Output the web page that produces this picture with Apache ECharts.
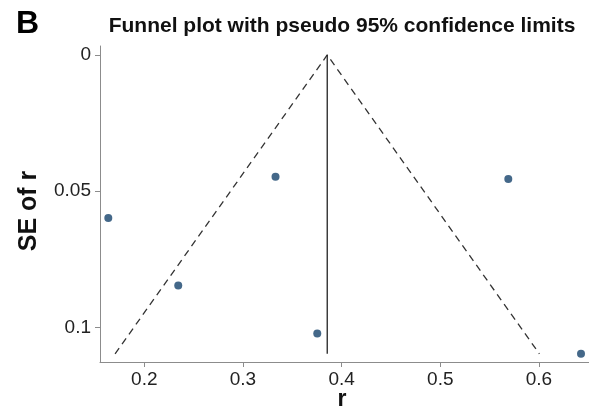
<!DOCTYPE html>
<html>
<head>
<meta charset="utf-8">
<script src="https://cdn.jsdelivr.net/npm/echarts@6/dist/echarts.min.js"></script>
<style>html,body{margin:0;padding:0;background:#fff}#c{width:589px;height:408px}</style>
</head>
<body>
<div id="c"></div>
<script>
// Study estimates: correlation r and its standard error
const rValues  = [0.1635, 0.2344, 0.3330, 0.3753, 0.5689, 0.6426];
const seValues = [0.0598, 0.0846, 0.0447, 0.1022, 0.0455, 0.1097];
const pooledR = 0.3854;      // pooled estimate (vertical line)
const xTicks = [0.2, 0.3, 0.4, 0.5, 0.6];
const yTicks = [0, 0.05, 0.1];

const maxSE = Math.max.apply(null, seValues);
const points = rValues.map((r, i) => [r, seValues[i]]);
const funnel = [[pooledR - 1.96 * maxSE, maxSE], [pooledR, 0], [pooledR + 1.96 * maxSE, maxSE]];
const vline = [[pooledR, 0], [pooledR, maxSE]];

const FONT = '"Liberation Sans", Arial, sans-serif';
const chart = echarts.init(document.getElementById('c'));
chart.setOption({
  animation: false,
  grid: { left: 100, right: 0, top: 46, bottom: 46 },
  xAxis: {
    type: 'value', min: 0.1551, max: 0.6507, position: 'bottom',
    splitLine: { show: false },
    axisLine: { show: true, onZero: false, lineStyle: { color: '#8c8c8c', width: 1 } },
    axisTick: { show: true, length: 5, customValues: xTicks, lineStyle: { color: '#8c8c8c' } },
    axisLabel: { customValues: xTicks, color: '#222', fontSize: 19, fontFamily: FONT, margin: 8,
      formatter: v => String(Math.round(v * 10) / 10) }
  },
  yAxis: {
    type: 'value', inverse: true, min: -0.0033, max: 0.1127,
    splitLine: { show: false },
    axisLine: { show: true, onZero: false, lineStyle: { color: '#8c8c8c', width: 1 } },
    axisTick: { show: true, length: 5, customValues: yTicks, lineStyle: { color: '#8c8c8c' } },
    axisLabel: { customValues: yTicks, color: '#222', fontSize: 19, fontFamily: FONT, margin: 9,
      formatter: v => String(Math.round(v * 100) / 100) }
  },
  graphic: [
    { type: 'text', left: 16, top: 8, style: { text: 'B', font: 'bold 32px ' + FONT, fill: '#000' } },
    { type: 'text', x: 342, y: 26, style: { text: 'Funnel plot with pseudo 95% confidence limits',
        font: 'bold 21px ' + FONT, fill: '#111', align: 'center', verticalAlign: 'middle' } },
    { type: 'text', x: 29, y: 211, rotation: Math.PI / 2, style: { text: 'SE of r',
        font: 'bold 25px ' + FONT, fill: '#111', align: 'center', verticalAlign: 'middle' } },
    { type: 'text', x: 342, y: 400, style: { text: 'r',
        font: 'bold 23px ' + FONT, fill: '#111', align: 'center', verticalAlign: 'middle' } }
  ],
  series: [
    { type: 'line', data: funnel, symbol: 'none', silent: true,
      lineStyle: { color: '#333', width: 1.3, type: [7, 5] } },
    { type: 'line', data: vline, symbol: 'none', silent: true,
      lineStyle: { color: '#222', width: 1.3 } },
    { type: 'scatter', data: points, symbol: 'circle', symbolSize: 8,
      itemStyle: { color: '#15426b' } }
  ]
});
</script>
</body>
</html>
